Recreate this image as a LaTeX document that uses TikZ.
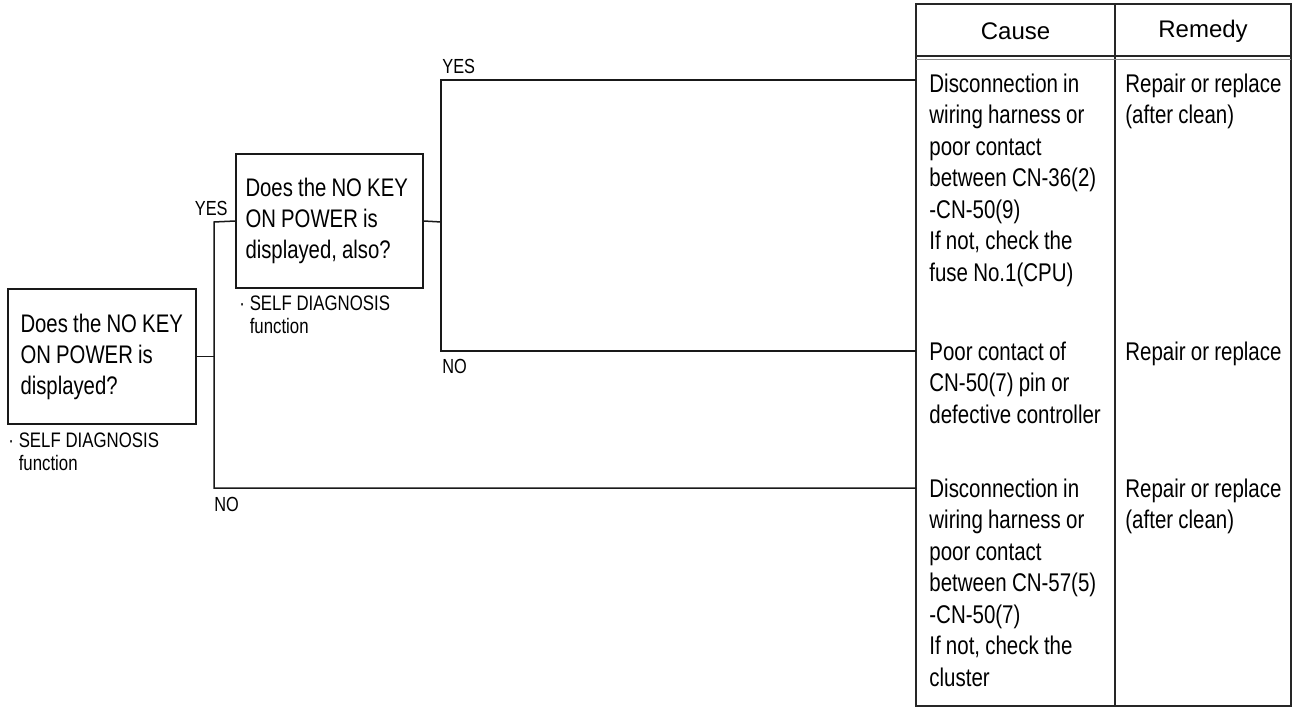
\documentclass[tikz,border=0pt]{standalone}
\usepackage{fontspec}
\setmainfont{Liberation Sans}[FakeStretch=0.8]
\newfontfamily\hdfont{Liberation Sans}
\newcommand\tightsp{\spaceskip=2.6pt plus 0.5pt minus 0.3pt\xspaceskip=2.8pt\hyphenpenalty=10000\exhyphenpenalty=10000\relax}
\newcommand\notesp{\spaceskip=2.4pt plus 0.5pt minus 0.3pt\xspaceskip=2.6pt\relax}
\begin{document}
\begin{tikzpicture}[x=0.5pt,y=-0.5pt,
  every node/.style={inner sep=0pt, text=black},
  ln/.style={draw=black!90, line width=0.75pt},
  tbl/.style={draw=black!85, line width=1pt},
  qbox/.style={draw=black!90, line width=0.85pt, font=\fontsize{12.7}{15.5}\selectfont, align=flush left, execute at begin node=\tightsp},
  celltext/.style={font=\fontsize{12.8}{15.75}\selectfont, align=flush left, anchor=north west, text width=95pt, execute at begin node=\tightsp},
  note/.style={font=\fontsize{10.5}{11.5}\selectfont, align=flush left, anchor=north west, text width=95pt, execute at begin node=\notesp},
  lbl/.style={font=\fontsize{10.2}{12}\selectfont},
  head/.style={font=\hdfont\fontsize{12}{14}\selectfont}
]
\useasboundingbox (0,0) rectangle (1299,710);

% question boxes
\node[qbox, text width=87.5pt, inner xsep=3.25pt, minimum height=67.5pt] (q1) at (102,356.5)
  {\hspace*{3pt}Does the NO KEY\\\hspace*{3pt}ON POWER is\\\hspace*{3pt}displayed?};
\node[qbox, text width=87pt, inner xsep=3.25pt, minimum height=67pt] (q2) at (329.5,221)
  {\hspace*{1.5pt}Does the NO KEY\\\hspace*{1.5pt}ON POWER is\\\hspace*{1.5pt}displayed, also?\rule[-2pt]{0pt}{2pt}};

% notes under boxes
\node[note] (n1) at (8,432) {\textperiodcentered\ SELF DIAGNOSIS\\\hphantom{\textperiodcentered\ }function};
\node[note] (n2) at (239,295) {\textperiodcentered\ SELF DIAGNOSIS\\\hphantom{\textperiodcentered\ }function};

% table
\draw[tbl] (916,4) rectangle (1291,706);
\draw[tbl] (1115,4) -- (1115,706);
\draw[draw=black!85, line width=0.6pt] (916,56) -- (1291,56);
\draw[draw=black!45, line width=0.6pt] (916,59.5) -- (1291,59.5);
\node[head] (hc) at (1015.5,31) {Cause};
\node[head] (hm) at (1203,31) {Remedy};

% row connection points on the table border
\coordinate (r1) at (916,80);
\coordinate (r2) at (916,351);
\coordinate (r3) at (916,488);

% junctions
\coordinate (j1t) at (214,222);
\coordinate (j1b) at (214,488);
\coordinate (j2) at (441,222);
\coordinate (j2t) at (441,80);
\coordinate (j2b) at (441,351);

% connectors
\draw[ln] (q1.east) -- (q1.east -| j1t);
\draw[ln] (q2.west) -- (j1t) -- (j1b) -- (r3);
\draw[ln] (q2.east) -- (j2);
\draw[ln] (r1) -- (j2t) -- (j2b) -- (r2);

% branch labels
\node[lbl, anchor=base east] (y1) at (228,216) {YES};
\node[lbl, anchor=base west] (y2) at (442,74) {YES};
\node[lbl, anchor=base west] (no2) at (442,374) {NO};
\node[lbl, anchor=base west] (no1) at (214,511) {NO};

% cause cells
\node[celltext] (c1) at (929,70) {\strut Disconnection in\\wiring harness or\\poor contact\\between CN-36(2)\\-CN-50(9)\\If not, check the\\fuse No.1(CPU)};
\node[celltext] (c2) at (929,338) {\strut Poor contact of\\CN-50(7) pin or\\defective controller};
\node[celltext] (c3) at (929,475) {\strut Disconnection in\\wiring harness or\\poor contact\\between CN-57(5)\\-CN-50(7)\\If not, check the\\cluster};

% remedy cells
\node[celltext, text width=82pt] (m1) at (1125,70) {\strut Repair or replace\\(after clean)};
\node[celltext, text width=82pt] (m2) at (1125,338) {\strut Repair or replace};
\node[celltext, text width=82pt] (m3) at (1125,475) {\strut Repair or replace\\(after clean)};
\end{tikzpicture}
\end{document}
